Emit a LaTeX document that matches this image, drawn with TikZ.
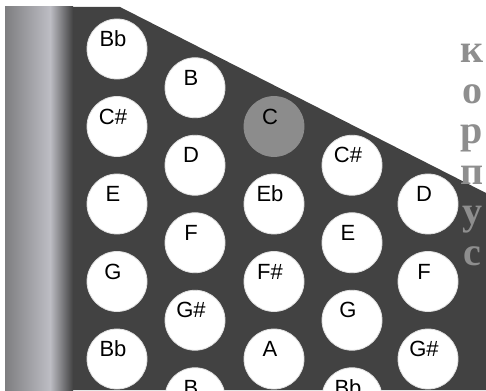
\documentclass[tikz,border=0pt]{standalone}
\usepackage{fontspec}
\setmainfont{Liberation Sans}
\newfontfamily\bodyfont{Liberation Serif}
\definecolor{panel}{HTML}{424242}
\definecolor{keygray}{HTML}{8C8C8C}
\definecolor{bodygray}{HTML}{8E8E8E}
\definecolor{barlight}{HTML}{BDBDC4}
\definecolor{bardark}{HTML}{7E7E80}
\tikzset{
  key/.style={circle, fill=white, draw=black!12, line width=0.8pt, minimum size=60pt, inner sep=0pt},
  keytext/.style={font=\fontsize{22}{22}\selectfont, text=black, xshift=-4pt, yshift=10pt},
  bodyletter/.style={font=\bodyfont\bfseries\fontsize{40}{40}\selectfont, text=bodygray, anchor=base, inner sep=0pt},
}
\begin{document}
\begin{tikzpicture}[x=1pt, y=1pt]
    \useasboundingbox (0,0) rectangle (486,390);
    \clip (0,0) rectangle (486,390);

    % Body panel
    \fill[panel] (70,383) -- (120,383) -- (486,197) -- (486,0) -- (70,0) -- cycle;

    % Side bar
    \shade[left color=bardark, right color=barlight] (5,0) rectangle (50,383);
    \shade[left color=barlight, right color=panel] (50,0) rectangle (73,383);

    % Keys, column by column
    \foreach \n [count=\r from 0] in {Bb,C\#,E,G,Bb}
        \node[key, label={[keytext]center:\n}] (a\r) at (117, 341-77.5*\r) {};
    \foreach \n [count=\r from 0] in {B,D,F,G\#,B}
        \node[key, label={[keytext]center:\n}] (b\r) at (195, 302.25-77.5*\r) {};
    \node[key, fill=keygray, draw=keygray, label={[keytext]center:C}] (c0) at (274, 263.5) {};
    \foreach \n [count=\r from 1] in {Eb,F\#,A}
        \node[key, label={[keytext]center:\n}] (c\r) at (274, 263.5-77.5*\r) {};
    \foreach \n [count=\r from 0] in {C\#,E,G,Bb}
        \node[key, label={[keytext]center:\n}] (d\r) at (352, 224.75-77.5*\r) {};
    \foreach \n [count=\r from 0] in {D,F,G\#}
        \node[key, label={[keytext]center:\n}] (e\r) at (428, 186-77.5*\r) {};

    % Body label
    \foreach \ch [count=\i] in {к,о,р,п,у,с}
        \node[bodyletter] (body\i) at (472, 367.5-40.5*\i) {\ch};
\end{tikzpicture}
\end{document}
